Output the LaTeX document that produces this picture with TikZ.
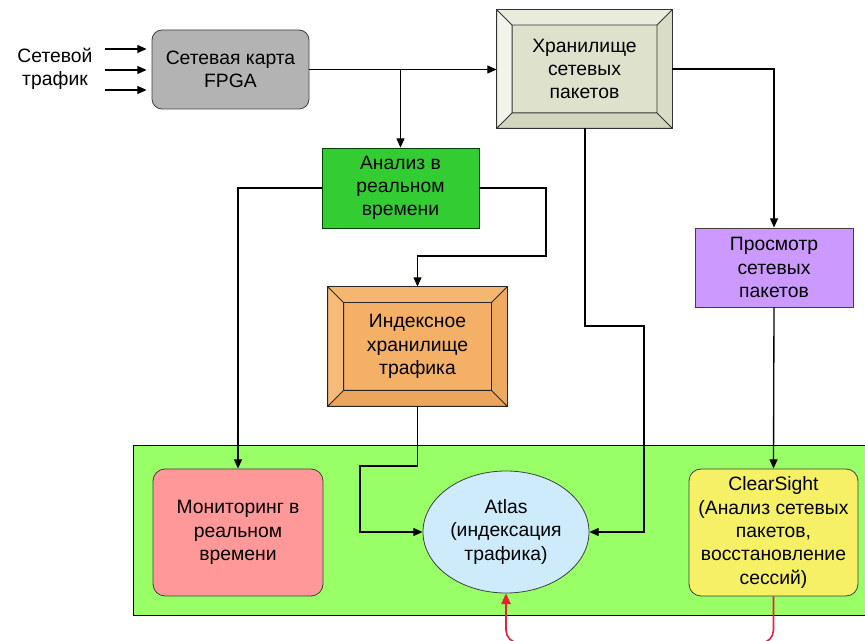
\documentclass[tikz,border=0pt]{standalone}
\usepackage{fontspec}
\setmainfont{Liberation Sans}
\usetikzlibrary{arrows.meta,calc,shapes.geometric}
\definecolor{fpgagray}{HTML}{B3B3B3}
\definecolor{anagreen}{HTML}{33CC33}
\definecolor{contgreen}{HTML}{99FF66}
\definecolor{viewpurple}{HTML}{CC99FF}
\definecolor{monred}{HTML}{FF9999}
\definecolor{atlasblue}{HTML}{CDEBFB}
\definecolor{clearyellow}{HTML}{F5F066}
\definecolor{redline}{HTML}{E8203F}
\definecolor{stin}{HTML}{DEE1CC}
\definecolor{sttop}{HTML}{E9EBDC}
\definecolor{stleft}{HTML}{F2F3EB}
\definecolor{stright}{HTML}{D9DCC6}
\definecolor{stbot}{HTML}{D3D6BE}
\definecolor{ixin}{HTML}{F4B066}
\definecolor{ixtop}{HTML}{F5B670}
\definecolor{ixleft}{HTML}{F6BB78}
\definecolor{ixright}{HTML}{EFAA60}
\definecolor{ixbot}{HTML}{ECA65C}
\newcommand{\bevelpaint}[7]{%
  \path (#1.north west) coordinate (bo1) (#1.north east) coordinate (bo2)
        (#1.south east) coordinate (bo3) (#1.south west) coordinate (bo4);
  \path ($(bo1)+(#2,#2)$) coordinate (bi1) ($(bo2)+(-#2,#2)$) coordinate (bi2)
        ($(bo3)+(-#2,-#2)$) coordinate (bi3) ($(bo4)+(#2,-#2)$) coordinate (bi4);
  \fill[#3] (bo1)--(bo2)--(bi2)--(bi1)--cycle;
  \fill[#4] (bo1)--(bi1)--(bi4)--(bo4)--cycle;
  \fill[#5] (bo2)--(bo3)--(bi3)--(bi2)--cycle;
  \fill[#6] (bo4)--(bi4)--(bi3)--(bo3)--cycle;
  \draw[#7] (bo1)--(bi1) (bo2)--(bi2) (bo3)--(bi3) (bo4)--(bi4)
        (bi1) rectangle (bi3) (bo1) rectangle (bo3);
}
\tikzset{
  txt/.style={align=center, font=\fontsize{14.5}{17.5}\selectfont, inner sep=0pt},
  box/.style={txt, draw=black!75, line width=0.6pt},
  conn/.style={line width=1pt, draw=black},
  arr/.style={conn, -{Triangle[length=7pt,width=6pt]}},
  redarr/.style={line width=1.2pt, draw=redline, rounded corners=9.75pt, -{Triangle[length=8pt,width=7pt]}},
}
\begin{document}
\begin{tikzpicture}[x=0.75pt,y=-0.75pt]
\useasboundingbox (0,0) rectangle (865,641);
\clip (0,0) rectangle (865,641);

% container
\draw[fill=contgreen, draw=black, line width=0.7pt] (133,445) rectangle (880,615);

% nodes
\node[txt] (inlabel) at (55,69) {Сетевой\\трафик};
\node[box, fill=fpgagray, rounded corners=7.5pt, minimum width=117.75pt, minimum height=59.25pt] (fpga) at (230.5,69.5) {Сетевая карта\\FPGA};
\node[box, fill=stin, draw=none, minimum width=131.25pt, minimum height=88.5pt] (store) at (584.5,69) {Хранилище\\сетевых\\пакетов};
\bevelpaint{store}{15.5}{sttop}{stleft}{stright}{stbot}{draw=black!80, line width=0.6pt}
\node[box, fill=anagreen, draw=green!25!black, minimum width=117.75pt, minimum height=60pt] (anal) at (400.5,188) {Анализ в\\реальном\\времени};
\node[box, fill=ixin, draw=none, minimum width=134.25pt, minimum height=89.25pt] (index) at (417.5,346.5) {Индексное\\хранилище\\трафика};
\bevelpaint{index}{16}{ixtop}{ixleft}{ixright}{ixbot}{draw=black!85, line width=0.6pt}
\node[box, fill=viewpurple, minimum width=118.5pt, minimum height=59.25pt] (view) at (774,267.5) {Просмотр\\сетевых\\пакетов};
\node[box, fill=monred, rounded corners=9pt, minimum width=127.5pt, minimum height=95.25pt] (mon) at (238,532.5) {Мониторинг в\\реальном\\времени};
\node[box, ellipse, fill=atlasblue, minimum width=124.5pt, minimum height=91.5pt] (atlas) at (506,532) {Atlas\\(индексация\\трафика)};
\node[box, fill=clearyellow, rounded corners=9pt, minimum width=126.75pt, minimum height=95.25pt] (clear) at (773.5,532.5) {ClearSight\\(Анализ сетевых\\пакетов,\\восстановление\\сессий)};

% input arrows
\coordinate (in1) at (105,49);
\coordinate (in2) at (105,70);
\coordinate (in3) at (105,90);
\foreach \c in {in1,in2,in3}
  \draw[arr] (\c) -- ([xshift=-3.75pt]fpga.west |- \c);

% connectors
\draw[arr] (fpga.east) -- (fpga.east -| store.west);
\draw[arr] (fpga.east -| anal.north) -- (anal.north);
\draw[arr] (store.east) -| (view.north);
\draw[arr] (store.south -| 585,0) -- (585,326) -- (644,326) |- (atlas.east);
\draw[arr] (anal.west) -| (mon.north);
\draw[arr] (anal.east) -- (546,188) -- (546,256) -- (index.north |- 0,256) -- (index.north);
\draw[arr] (index.south) -- (index.south |- 0,466) -- (360,466) |- (atlas.west);
\draw[arr] (view.south) -- (clear.north);
\draw[redarr] (clear.south) -- (clear.south |- 0,643) -- (atlas.south |- 0,643) -- (atlas.south);
\end{tikzpicture}
\end{document}
